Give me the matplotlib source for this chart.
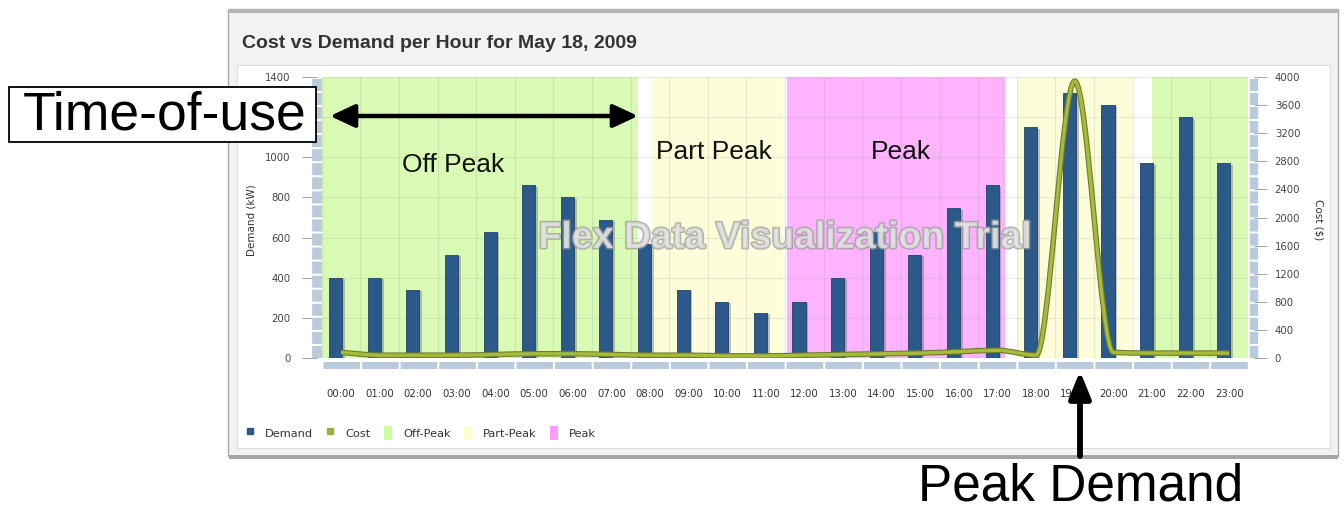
import matplotlib
matplotlib.use("Agg")
import matplotlib.pyplot as plt
import matplotlib.patheffects as pe
import numpy as np
from matplotlib.lines import Line2D
from matplotlib.patches import Rectangle, FancyArrowPatch, PathPatch, Patch
from matplotlib.path import Path

# ---- data ----
hours = [f"{h:02d}:00" for h in range(24)]
demand = [400, 400, 340, 515, 630, 860, 800, 690, 570, 340, 280, 225,
          280, 400, 630, 515, 745, 860, 1150, 1320, 1260, 970, 1200, 970]
cost = [80, 40, 40, 40, 50, 60, 60, 50, 40, 40, 30, 30,
        40, 50, 60, 70, 90, 110, 40, 3940, 80, 70, 70, 70]

# time-of-use periods (in hour-slot units, as drawn in the original)
band_kind = ["Off-Peak", "Part-Peak", "Peak", "Part-Peak", "Off-Peak"]
band_start = [-0.5, 8.06, 11.55, 17.5, 21.0]
band_end = [7.69, 11.45, 17.2, 20.5, 23.5]
band_text = ["Off Peak", "Part Peak", "Peak"]
band_text_x = [2.9, 9.66, 14.5]
band_text_y = [962, 1026, 1026]

BAND_COLORS = {"Off-Peak": "#d9fab4", "Part-Peak": "#fdfdd9", "Peak": "#fdb3fd"}
BAR_COLOR = "#2b5a8a"
COST_COLOR = "#a6ba3c"
STRIP = "#b9cadc"

W, H = 1344, 512
plt.rcParams["lines.scale_dashes"] = False
plt.rcParams["font.family"] = ["DejaVu Sans"]
ARIAL = ["Liberation Sans", "DejaVu Sans"]


def fx(x):
    return x / W


def fy(y):
    return 1 - y / H


fig = plt.figure(figsize=(W / 100, H / 100), dpi=100)
fig.patch.set_facecolor("white")

# panel behind the chart
fig.add_artist(Rectangle((fx(228), fy(456)), fx(1338) - fx(228), fy(9) - fy(456),
                         transform=fig.transFigure, facecolor="#f2f2f2",
                         edgecolor="#a9a9a9", lw=1.0, zorder=-3))
fig.add_artist(Rectangle((fx(228), fy(13)), fx(1338) - fx(228), fy(9) - fy(13),
                         transform=fig.transFigure, facecolor="#b4b4b4",
                         edgecolor="none", zorder=-2))
fig.add_artist(Rectangle((fx(237), fy(448)), fx(1330) - fx(237), fy(65) - fy(448),
                         transform=fig.transFigure, facecolor="white",
                         edgecolor="#dcdcdc", lw=0.8, zorder=-2))
fig.add_artist(Rectangle((fx(229), fy(459)), fx(1338) - fx(229), fy(455) - fy(459),
                         transform=fig.transFigure, facecolor="#a5a5a5",
                         edgecolor="none", zorder=-2))

fig.text(fx(242), fy(43), "Cost vs Demand per Hour for May 18, 2009",
         fontsize=14, fontweight="bold", color="#333333", va="center",
         family=ARIAL)

ax = fig.add_axes([fx(321.7), fy(358), fx(1248.5) - fx(321.7), fy(77) - fy(358)])
ax.patch.set_alpha(0)
x = np.arange(len(hours))

for kind, s, e in zip(band_kind, band_start, band_end):
    ax.axvspan(s, e, color=BAND_COLORS[kind], lw=0, zorder=0.5)

ax.bar(x - 0.14, demand, width=0.34, color=BAR_COLOR, edgecolor="#1f4268",
       lw=0.6, zorder=2,
       path_effects=[pe.SimplePatchShadow(offset=(2, -1), shadow_rgbFace="#555555",
                                          alpha=0.35), pe.Normal()])

for t, tx, ty in zip(band_text, band_text_x, band_text_y):
    ax.text(tx, ty, t, fontsize=19, ha="center", va="center", color="#111111",
            family=ARIAL, zorder=4)

ax.set_xlim(-0.5, 23.5)
ax.set_ylim(0, 1400)
ax.set_yticks(np.arange(0, 1401, 200))
ax.set_xticks(x)
ax.set_xticklabels(hours)
ax.set_xticks(np.arange(-0.5, 24, 1), minor=True)
ax.grid(axis="y", which="major", color="#9a9a9a", alpha=0.18, lw=0.8)
ax.grid(axis="x", which="minor", color="#9a9a9a", alpha=0.22, lw=0.8)
ax.tick_params(axis="x", which="both", length=0, pad=17.5, labelsize=7.3,
               labelcolor="#333333")
ax.tick_params(axis="y", which="major", length=10.8, width=0.8, color="#a8a8a8",
               pad=8, labelsize=7.3, labelcolor="#444444")

# Flex style segmented axis strips
for side in ["top", "right"]:
    ax.spines[side].set_visible(False)
ax.spines["left"].set_position(("outward", 3.5))
ax.spines["left"].set_linewidth(7.0)
ax.spines["left"].set_color(STRIP)
ax.spines["left"].set_linestyle((0, (8.68, 1.44)))
ax.spines["left"].set_capstyle("butt")
ax.spines["left"].set_zorder(1.7)
ax.spines["bottom"].set_position(("outward", 4.7))
ax.spines["bottom"].set_linewidth(5.0)
ax.spines["bottom"].set_color(STRIP)
ax.spines["bottom"].set_linestyle((-0.72, (26.35, 1.44)))
ax.spines["bottom"].set_capstyle("butt")
ax.spines["bottom"].set_zorder(1.7)

ax2 = ax.twinx()
ax2.set_ylim(0, 4000)
ax2.set_yticks(np.arange(0, 4001, 400))
ax2.tick_params(axis="y", length=9.4, width=0.8, color="#a8a8a8", pad=5.5,
                labelsize=7.3, labelcolor="#444444")
for side in ["top", "left", "bottom"]:
    ax2.spines[side].set_visible(False)
ax2.spines["right"].set_position(("outward", 4.0))
ax2.spines["right"].set_linewidth(6.0)
ax2.spines["right"].set_color(STRIP)
ax2.spines["right"].set_linestyle((0, (8.68, 1.44)))
ax2.spines["right"].set_capstyle("butt")
ax2.spines["right"].set_zorder(1.7)

# smooth cost curve (monotone cubic through the hourly points)
cx = np.arange(len(cost), dtype=float)
cy = np.array(cost, dtype=float)
d = np.diff(cy)
m = np.zeros_like(cy)
for k in range(1, len(cy) - 1):
    if d[k - 1] * d[k] > 0:
        m[k] = 2 * d[k - 1] * d[k] / (d[k - 1] + d[k])
m[0], m[-1] = d[0], d[-1]
verts = [(cx[0], cy[0])]
codes = [Path.MOVETO]
for k in range(len(cy) - 1):
    verts += [(cx[k] + 1 / 3, cy[k] + m[k] / 3),
              (cx[k + 1] - 1 / 3, cy[k + 1] - m[k + 1] / 3),
              (cx[k + 1], cy[k + 1])]
    codes += [Path.CURVE4] * 3
ax2.add_patch(PathPatch(Path(verts, codes), fill=False, edgecolor=COST_COLOR,
                        lw=2.4, zorder=3,
                        path_effects=[pe.Stroke(linewidth=4.0, foreground="#6f7d2c"),
                                      pe.Normal()]))

fig.text(fx(251), fy(220), "Demand (kW)", rotation=90, fontsize=7.5,
         ha="center", va="center", color="#333333")
fig.text(fx(1318), fy(220), "Cost ($)", rotation=270, fontsize=7.5,
         ha="center", va="center", color="#333333")

# watermark
fig.text(fx(785), fy(238), "Flex Data Visualization Trial", fontsize=27,
         fontweight="bold", color="#e4e4e4", ha="center", va="center",
         family=ARIAL, alpha=0.75,
         path_effects=[pe.Stroke(linewidth=2.0, foreground="#9a9a9a"), pe.Normal()])

handles = [
    Line2D([], [], ls="none", marker="s", ms=4, color=BAR_COLOR),
    Line2D([], [], ls="none", marker="s", ms=4, color="#98b040"),
    Patch(facecolor="#ccff99"),
    Patch(facecolor="#ffffcc"),
    Patch(facecolor="#ff99ff"),
]
fig.legend(handles, ["Demand", "Cost", "Off-Peak", "Part-Peak", "Peak"],
           loc="center left", bbox_to_anchor=(fx(235), fy(433)), ncol=5,
           frameon=False, fontsize=8.2, handlelength=0.75, handleheight=1.5,
           handletextpad=0.95, columnspacing=1.15, labelcolor="#333333")

# annotations outside the chart
fig.add_artist(Rectangle((fx(9), fy(142)), fx(316) - fx(9), fy(87) - fy(142),
                         transform=fig.transFigure, facecolor="white",
                         edgecolor="black", lw=1.3, zorder=5))
fig.text(fx(165), fy(116), "Time-of-use", fontsize=38.5, ha="center",
         va="center", family=ARIAL, zorder=6)
fig.add_artist(FancyArrowPatch((fx(330), fy(116)), (fx(638), fy(116)),
                               transform=fig.transFigure,
                               arrowstyle="<|-|>,head_length=1.5,head_width=0.7",
                               mutation_scale=10, lw=3.2, color="black",
                               shrinkA=0, shrinkB=0, zorder=6))
fig.add_artist(FancyArrowPatch((fx(1080), fy(456)), (fx(1080), fy(371)),
                               transform=fig.transFigure,
                               arrowstyle="-|>,head_length=1.6,head_width=0.65",
                               mutation_scale=10, lw=4.2, color="black",
                               shrinkA=0, shrinkB=0, zorder=6))
fig.text(fx(1081), fy(487), "Peak Demand", fontsize=37, ha="center",
         va="center", family=ARIAL, zorder=6)

fig.savefig("out.png", dpi=100)
